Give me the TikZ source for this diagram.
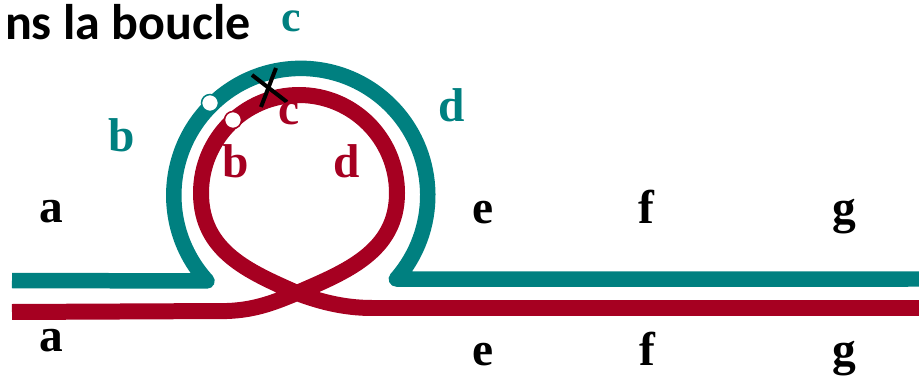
\documentclass[tikz,border=0pt]{standalone}
\usepackage{fontspec}
\setmainfont{Liberation Serif}
\newfontfamily\titlefont{Carlito}
\definecolor{tealc}{RGB}{0,128,128}
\definecolor{redc}{RGB}{166,0,33}
\begin{document}
\begin{tikzpicture}[x=0.02cm,y=-0.02cm,
  tealline/.style={draw=tealc, line width=0.31cm, line join=round},
  redline/.style={draw=redc, line width=0.32cm},
  lbl/.style={font=\fontsize{27}{27}\selectfont\bfseries, inner sep=0pt, anchor=base},
  tlbl/.style={lbl, text=tealc},
  rlbl/.style={lbl, text=redc},
  dot/.style={circle, fill=white, line width=0.03cm, minimum size=0.34cm, inner sep=0pt},
  cross/.style={draw=black, line width=0.08cm}]
\useasboundingbox (0,0) rectangle (919,378);
\clip (0,0) rectangle (919,378);

% teal strand
\coordinate (tL) at (12,280.5);
\coordinate (tJ1) at (207,281);
\coordinate (tR) at (930,279);
\draw[tealline] (tL) -- (tJ1) arc[start angle=137.6, end angle=401.2, radius=127] -- (tR);

% red strand
\coordinate (rL) at (12,312);
\coordinate (rL2) at (227,311);
\coordinate (X) at (297,293);
\coordinate (rRt) at (397,193);
\coordinate (rR2) at (372,308);
\coordinate (rR) at (930,308);
\draw[redline] (rL) -- (rL2) .. controls (257,310) and (277,301) .. (X)
  .. controls (345,272) and (397,252) .. (rRt)
  arc[start angle=0, end angle=-180, radius=98]
  .. controls (201,252) and (250,272) .. (X)
  .. controls (318,301) and (343,308) .. (rR2) -- (rR);

% markers
\node[dot, draw=tealc] (ct) at (210,103) {};
\node[dot, draw=redc] (cr) at (233,120) {};
\coordinate (x1a) at (252,75);
\coordinate (x1b) at (287,102);
\coordinate (x2a) at (276,68);
\coordinate (x2b) at (261,107);
\draw[cross] (x1a) -- (x1b);
\draw[cross] (x2a) -- (x2b);

% title
\node[font=\titlefont\fontsize{28.5}{28.5}\selectfont\bfseries, inner sep=0pt, anchor=base east] (title) at (251,40) {ns la boucle};

% labels
\node[tlbl, font=\fontsize{25}{25}\selectfont\bfseries] (tc) at (291,32) {c};
\node[tlbl] (tb) at (122,152) {b};
\node[tlbl] (td) at (452,122) {d};
\node[rlbl] (rc) at (289,125) {c};
\node[rlbl] (rb) at (236,178) {b};
\node[rlbl] (rd) at (347,178) {d};

\node[lbl] (a1) at (51.5,222) {a};
\node[lbl] (e1) at (483,223) {e};
\node[lbl] (f1) at (646,223) {f};
\node[lbl] (g1) at (844,223) {g};
\node[lbl] (a2) at (51.5,351) {a};
\node[lbl] (e2) at (483,365) {e};
\node[lbl] (f2) at (647,365) {f};
\node[lbl] (g2) at (844,365) {g};
\end{tikzpicture}
\end{document}
